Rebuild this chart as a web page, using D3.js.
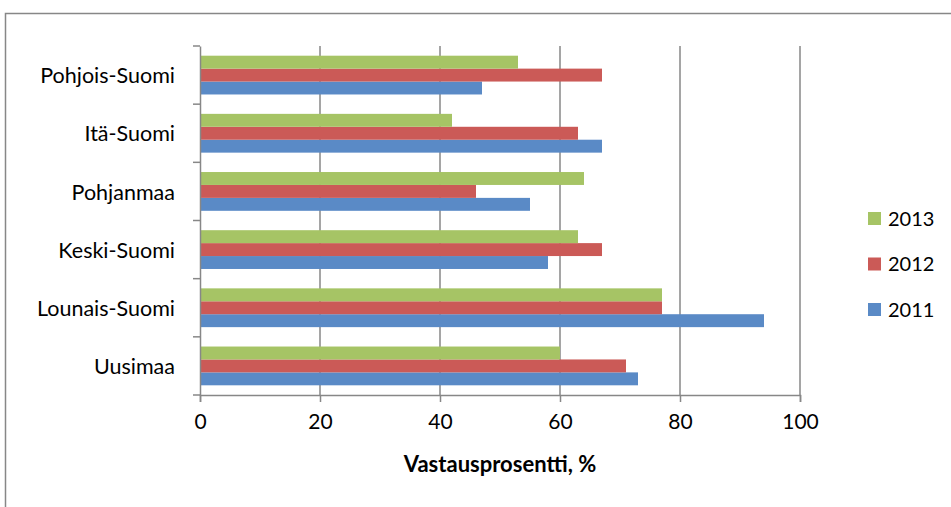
<!DOCTYPE html>
<html><head><meta charset="utf-8">
<script src="https://cdn.jsdelivr.net/npm/d3@7"></script>
<style>body{margin:0;background:#fff}svg{display:block}text{font-family:Lato,"Open Sans",sans-serif}</style>
</head><body>
<script>
const categories = ["Uusimaa","Lounais-Suomi","Keski-Suomi","Pohjanmaa","Itä-Suomi","Pohjois-Suomi"];
const seriesNames = ["2011","2012","2013"];
const values2011 = [73,94,58,55,67,47];
const values2012 = [71,77,67,46,63,67];
const values2013 = [60,77,63,64,42,53];
const xTicks = [0,20,40,60,80,100];
const axisTitle = "Vastausprosentti, %";

const colors = {"2011":"#5a8ac6","2012":"#cb5a57","2013":"#a6c465"};
const seriesVals = {"2011":values2011,"2012":values2012,"2013":values2013};

const W=951,H=507;
const svg=d3.select("body").append("svg").attr("width",W).attr("height",H);
svg.append("rect").attr("x",5.5).attr("y",13.5).attr("width",1200).attr("height",800)
  .attr("fill","none").attr("stroke","#878787").attr("stroke-width",1.5);

const x=d3.scaleLinear().domain([0,100]).range([200,800]);
const y=d3.scaleBand().domain(categories.slice().reverse()).range([46,395]).padding(0);
const inner=d3.scaleBand().domain(["2013","2012","2011"]).range([0,y.bandwidth()]).paddingInner(0).paddingOuter(0.75);

// gridlines
svg.append("g").selectAll("line").data(xTicks.filter(d=>d>0)).join("line")
  .attr("x1",d=>x(d)).attr("x2",d=>x(d)).attr("y1",46).attr("y2",395)
  .attr("stroke","#878787").attr("stroke-width",1.5);

// bars
const g=svg.append("g");
seriesNames.forEach(s=>{
  g.selectAll("rect.s"+s).data(categories.map((c,i)=>({c,v:seriesVals[s][i]}))).join("rect")
   .attr("x",x(0)).attr("y",d=>y(d.c)+inner(s)).attr("width",d=>x(d.v)-x(0)).attr("height",inner.bandwidth())
   .attr("fill",colors[s]);
});

// x axis
const xa=svg.append("g").attr("transform","translate(0,395)")
  .call(d3.axisBottom(x).tickValues(xTicks).tickSize(7).tickPadding(12));
xa.select(".domain").attr("stroke","#878787").attr("stroke-width",1.5);
xa.selectAll(".tick line").attr("stroke","#878787").attr("stroke-width",1.5);
xa.selectAll("text").attr("font-size",21).attr("fill","#000").attr("font-family","Lato");

// y axis
const ya=svg.append("g").attr("transform","translate(200,0)")
  .call(d3.axisLeft(y).tickSize(0).tickPadding(25));
ya.select(".domain").attr("stroke","#878787").attr("stroke-width",1.5);
ya.selectAll("text").attr("font-size",21.5).attr("fill","#000").attr("font-family","Lato").attr("dy","0.38em");
// category boundary ticks
ya.selectAll("line.bt").data(categories.map(c=>y(c)).concat([395])).join("line").attr("class","bt")
  .attr("x1",-7).attr("x2",0).attr("y1",d=>d).attr("y2",d=>d)
  .attr("stroke","#878787").attr("stroke-width",1.5);

svg.append("text").attr("x",500).attr("y",472).attr("text-anchor","middle")
  .attr("font-size",22).attr("font-weight","bold").text(axisTitle);

// legend
const leg=svg.append("g");
["2013","2012","2011"].forEach((s,i)=>{
  const cy=218.5+i*45.5;
  leg.append("rect").attr("x",868).attr("y",cy-6.5).attr("width",13).attr("height",13).attr("fill",colors[s]);
  leg.append("text").attr("x",888).attr("y",cy).attr("dy","0.35em").attr("font-size",20).text(s);
});
</script>
</body></html>
